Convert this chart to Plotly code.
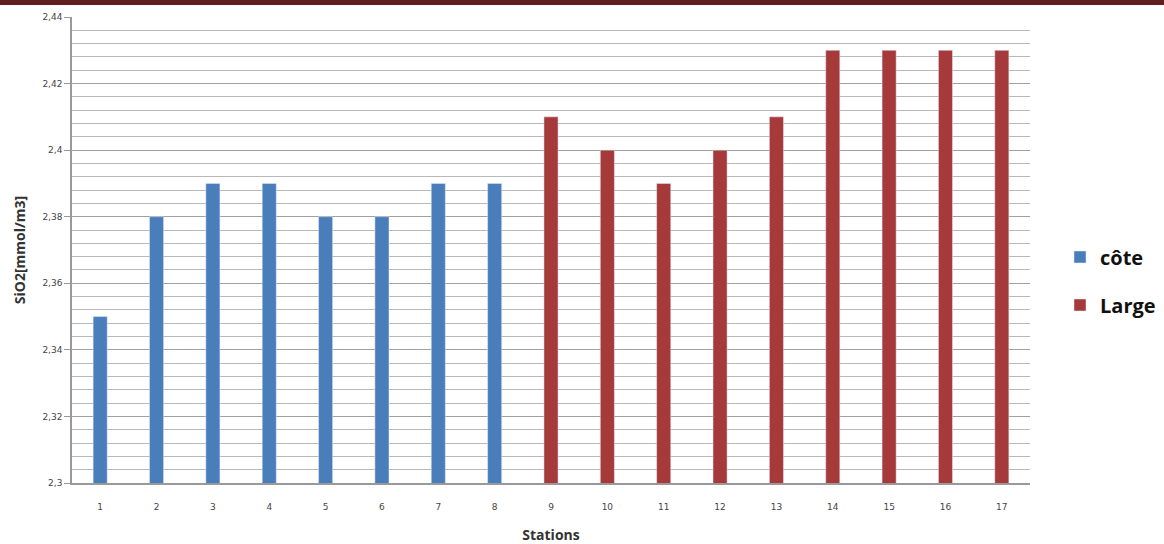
import plotly.graph_objects as go

stations_cote = [1, 2, 3, 4, 5, 6, 7, 8]
values_cote = [2.35, 2.38, 2.39, 2.39, 2.38, 2.38, 2.39, 2.39]
stations_large = [9, 10, 11, 12, 13, 14, 15, 16, 17]
values_large = [2.41, 2.40, 2.39, 2.40, 2.41, 2.43, 2.43, 2.43, 2.43]
x_ticks = list(range(1, 18))
y_tickvals = [2.30, 2.32, 2.34, 2.36, 2.38, 2.40, 2.42, 2.44]
y_ticktext = ["2,3", "2,32", "2,34", "2,36", "2,38", "2,4", "2,42", "2,44"]

BLUE = "#4a7ebb"
RED = "#a6393a"

fig = go.Figure()
fig.add_trace(go.Bar(x=stations_cote, y=values_cote, name="côte", marker_color=BLUE,
                     width=0.25, legendgroup="a", base=0))
fig.add_trace(go.Bar(x=stations_large, y=values_large, name="Large", marker_color=RED,
                     width=0.25, legendgroup="b", base=0))

fig.update_layout(
    width=1164, height=544,
    margin=dict(l=72, r=134, t=17, b=61),
    paper_bgcolor="white", plot_bgcolor="white",
    barmode="overlay",
    font=dict(family="DejaVu Sans", color="#333333"),
    showlegend=True,
    legend=dict(xref="container", yref="container", x=1060/1164, y=1 - 281/544,
                xanchor="left", yanchor="middle",
                font=dict(size=20, color="#111111", family="Open Sans", weight="bold"),
                tracegroupgap=19, traceorder="grouped", itemwidth=30),
    shapes=[dict(type="rect", xref="paper", yref="paper",
                 x0=-72/958, x1=1 + 134/958, y0=1 + 12/466, y1=1 + 18/466,
                 fillcolor="#5f1f20", line=dict(width=0), layer="above")],
)
fig.update_xaxes(range=[0.5, 17.5], tickvals=x_ticks, ticktext=[str(v) for v in x_ticks],
                 tickfont=dict(size=9, color="#444444"), showgrid=False,
                 showline=True, linecolor="#999999", linewidth=1.5, ticks="",
                 ticklabelstandoff=14, automargin=False,
                 title=dict(text="Stations", font=dict(size=14, color="#333333", family="Open Sans", weight="bold"), standoff=22))
fig.update_yaxes(range=[2.30, 2.44], tickvals=y_tickvals, ticktext=y_ticktext,
                 tickfont=dict(size=9, color="#444444"),
                 showgrid=True, gridcolor="#a0a0a0", gridwidth=1.2,
                 showline=True, linecolor="#999999", linewidth=1.5,
                 ticks="outside", ticklen=6, tickcolor="#999999", automargin=False,
                 minor=dict(dtick=0.004, tick0=2.30, showgrid=True, gridcolor="#b8b8b8", gridwidth=1),
                 title=dict(text="SiO2[mmol/m3]", font=dict(size=14, color="#333333", family="Open Sans", weight="bold"), standoff=14))

fig.write_html("out.html", config={"displayModeBar": False},
               post_script="document.body.style.margin='0';")
